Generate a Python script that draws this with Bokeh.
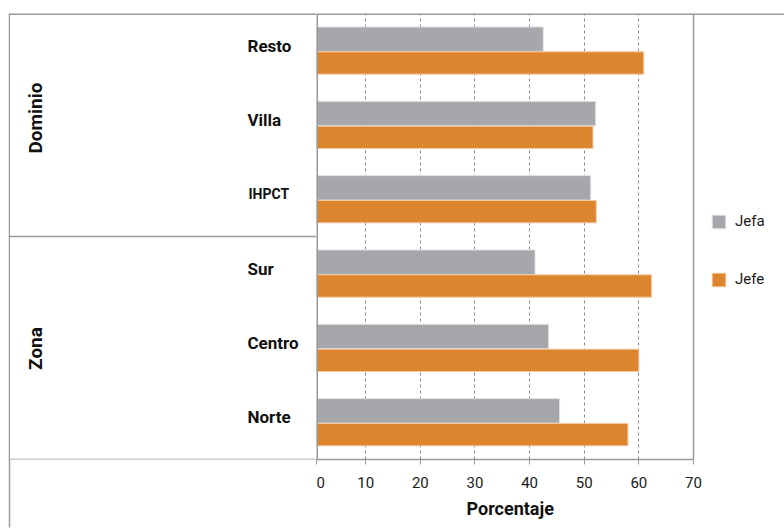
from bokeh.plotting import figure
from bokeh.layouts import row
from bokeh.models import (FactorRange, Range1d, FixedTicker, Span, Legend, Title,
                          LegendItem, ColumnDataSource, LinearAxis)
from bokeh.core.properties import value
from bokeh.transform import dodge
from bokeh.embed import file_html
from bokeh.resources import INLINE

# ---- data (bottom to top) ----
categories = ["Norte", "Centro", "Sur", "IHPCT", "Villa", "Resto"]
jefa = [45.5, 43.5, 41.0, 51.2, 52.1, 42.5]
jefe = [58.0, 60.0, 62.3, 52.2, 51.6, 60.9]
groups = ["Zona", "Dominio"]
group_anchor = ["Centro", "Villa"]
tick_values = [1, 10, 20, 30, 40, 50, 60, 70]
tick_labels = ["0", "10", "20", "30", "40", "50", "60", "70"]
series_names = ["Jefa", "Jefe"]
x_title = "Porcentaje"

GRAY = "#a6a7ab"
ORANGE = "#dd842f"
LINE = "#9a9a9a"
FONT = "Roboto"
TXT = "#111111"

# ---------------- layout constants (pixels) ----------------
W, H = 784, 528
PANEL_L, PANEL_R, PANEL_T, PANEL_B = 316, 693, 13, 459
OUTER_L = 8
n = len(categories)

# ================= left figure: label column =================
left = figure(width=PANEL_L, height=H, output_backend="svg", toolbar_location=None,
              x_range=Range1d(OUTER_L, PANEL_L), y_range=Range1d(0, n),
              x_axis_location=None, y_axis_location=None,
              min_border_left=OUTER_L, min_border_right=0,
              min_border_top=PANEL_T, min_border_bottom=H - PANEL_B)
left.outline_line_color = None
left.xgrid.grid_line_color = None
left.ygrid.grid_line_color = None

cat_src = ColumnDataSource(dict(
    x=[247 if c != "IHPCT" else 248 for c in categories],
    y=[i + 0.5 for i in range(n)],
    text=categories,
    size=["14px" if c == "IHPCT" else "17px" for c in categories]))
left.text(x="x", y="y", text="text", source=cat_src, text_font=value(FONT),
          text_font_style="bold", text_font_size="size", text_color=TXT,
          text_align="left", text_baseline="alphabetic", y_offset=-5)

grp_src = ColumnDataSource(dict(
    x=[35, 35],
    y=[categories.index(a) + 0.5 for a in group_anchor],
    text=groups,
    off=[0.5, -7]))
left.text(x="x", y="y", text="text", source=grp_src, angle=1.5707963,
          text_font=value(FONT), text_font_style="bold", text_font_size="19px",
          text_color=TXT, text_align="center", text_baseline="alphabetic",
          y_offset="off")

# table lines
edge_x = OUTER_L + 0.75
left.add_layout(Span(location=n, dimension="width", line_color=LINE, line_width=3))
left.add_layout(Span(location=edge_x, dimension="height", line_color=LINE, line_width=1.5))
left.add_layout(Span(location=categories.index("IHPCT"), dimension="width",
                     line_color=LINE, line_width=1.5))
left.add_layout(Span(location=0, dimension="width", line_color=LINE, line_width=1.5))
# continuation of the outer left border below the panel (a single long tick)
border_axis = LinearAxis(ticker=FixedTicker(ticks=[edge_x]), axis_line_color=None,
                         major_tick_out=H - PANEL_B - 1, major_tick_in=0,
                         major_tick_line_color=LINE, major_tick_line_width=1.5,
                         minor_tick_line_color=None, major_label_standoff=0,
                         major_label_text_font_size="0px", major_label_text_alpha=0)
left.add_layout(border_axis, "below")

# ================= right figure: bars =================
x0, x1 = tick_values[0], tick_values[-1]
x_end = x0 + (x1 - x0) * (W - PANEL_L) / (PANEL_R - PANEL_L)
p = figure(width=W - PANEL_L, height=H, y_range=FactorRange(*categories),
           x_range=Range1d(x0, x_end), output_backend="svg", toolbar_location=None,
           y_axis_location=None, min_border_left=0, min_border_right=0,
           min_border_top=PANEL_T, min_border_bottom=H - PANEL_B)

src = ColumnDataSource(dict(cat=categories, jefa=jefa, jefe=jefe))
r1 = p.hbar(y=dodge("cat", 0.154, range=p.y_range), left=0, right="jefa",
            height=0.33, source=src, fill_color=GRAY, line_color="#e4e4e6", line_width=1)
r2 = p.hbar(y=dodge("cat", -0.166, range=p.y_range), left=0, right="jefe",
            height=0.30, source=src, fill_color=ORANGE, line_color="#f3c9a0", line_width=1)

p.outline_line_color = None
p.ygrid.grid_line_color = None
p.xgrid.ticker = FixedTicker(ticks=tick_values[1:-1])
p.xgrid.grid_line_color = "#8a8a8a"
p.xgrid.grid_line_dash = "3 3"
p.xgrid.grid_line_width = 1

# panel borders
p.add_layout(Span(location=n, dimension="width", line_color=LINE, line_width=3))
p.add_layout(Span(location=x0, dimension="height", line_color=LINE, line_width=3))
p.add_layout(Span(location=x1, dimension="height", line_color=LINE, line_width=1.5))

ax = p.xaxis[0]
ax.bounds = (x0, x1)
ax.ticker = FixedTicker(ticks=tick_values)
ax.major_label_overrides = {v: t for v, t in zip(tick_values, tick_labels)}
ax.axis_line_color = LINE
ax.axis_line_width = 1.5
ax.major_tick_line_color = LINE
ax.major_tick_out = 5
ax.major_tick_in = 0
ax.minor_tick_line_color = None
ax.major_label_text_font = FONT
ax.major_label_text_font_size = "15px"
ax.major_label_text_color = "#1a1a1a"
ax.major_label_standoff = 12

# axis title (below the tick labels, placed like the reference)
title = Title(text=x_title, align="left", offset=150,
              text_font=FONT, text_font_style="bold", text_font_size="18px",
              text_color=TXT, standoff=11)
p.add_layout(title, "below")

legend = Legend(items=[LegendItem(label=series_names[0], renderers=[r1]),
                       LegendItem(label=series_names[1], renderers=[r2])],
                location=(710 - PANEL_L, 171))
legend.padding = 0
legend.margin = 0
legend.border_line_color = None
legend.background_fill_alpha = 0
legend.glyph_width = 17
legend.glyph_height = 17
legend.label_height = 17
legend.spacing = 40
legend.label_standoff = 8
legend.label_text_font = FONT
legend.label_text_font_size = "15px"
legend.label_text_color = "#1a1a1a"
legend.label_text_baseline = "middle"
p.add_layout(legend, "center")

layout = row(left, p, spacing=0)
open("out.html", "w").write(file_html(layout, INLINE))
